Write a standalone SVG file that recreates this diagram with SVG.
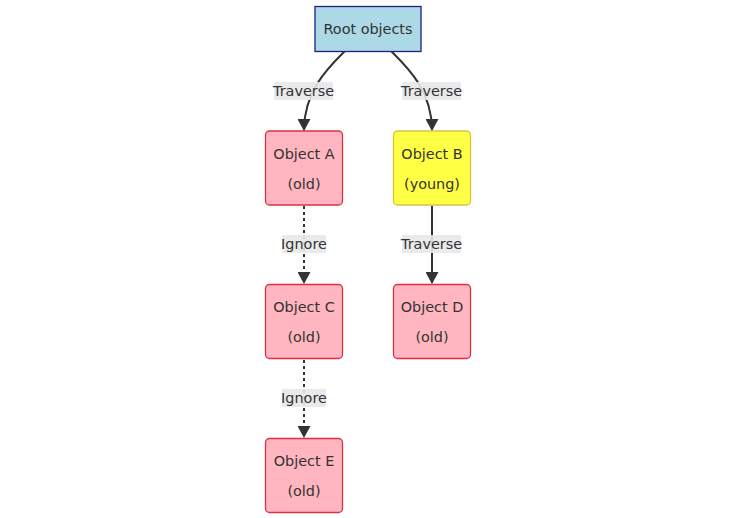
<svg xmlns="http://www.w3.org/2000/svg" width="736" height="518" viewBox="0 0 736 518">
<defs>
<style>
text{font-family:"DejaVu Sans",Verdana,sans-serif;font-size:14.4px;fill:#333;text-anchor:middle;dominant-baseline:central}
.old{fill:#ffb6c1;stroke:#e0303f;stroke-width:1.3}
.young{fill:#ffff44;stroke:#e0c040;stroke-width:1.3}
.root{fill:#add8e6;stroke:#1a237e;stroke-width:1.3}
.e{fill:none;stroke:#333;stroke-width:2}
.dot{stroke-dasharray:3,3}
.lb{fill:#e8e8e8;opacity:0.9}
</style>
<marker id="ah" viewBox="0 0 12 13" refX="11" refY="6.5" markerWidth="12" markerHeight="13" markerUnits="userSpaceOnUse" orient="auto">
<path d="M0,0 L12,6.5 L0,13 Z" fill="#333"/>
</marker>
</defs>
<rect width="736" height="518" fill="#fff"/>
<g id="connectors">
<path class="e" d="M345,51 C330,66 304,90 304,130" marker-end="url(#ah)"/>
<path class="e" d="M391,51 C406,66 432,90 432,130" marker-end="url(#ah)"/>
<path class="e dot" d="M304,206 L304,283" marker-end="url(#ah)"/>
<path class="e dot" d="M304,360 L304,437" marker-end="url(#ah)"/>
<path class="e" d="M432,206 L432,283" marker-end="url(#ah)"/>
<rect class="lb" x="274" y="82" width="59" height="18"/>
<text x="303.5" y="91">Traverse</text>
<rect class="lb" x="402" y="82" width="59" height="18"/>
<text x="431.5" y="91">Traverse</text>
<rect class="lb" x="282" y="235" width="44" height="18"/>
<text x="304" y="244">Ignore</text>
<rect class="lb" x="282" y="389" width="44" height="18"/>
<text x="304" y="398">Ignore</text>
<rect class="lb" x="402" y="235" width="59" height="18"/>
<text x="431.5" y="244">Traverse</text>
</g>
<g id="root">
<rect class="root" x="315" y="6.5" width="106" height="45"/>
<text x="368" y="29">Root objects</text>
</g>
<g id="objA">
<rect class="old" x="265.5" y="131" width="77" height="74" rx="4"/>
<text x="304" y="154">Object A</text>
<text x="304" y="184">(old)</text>
</g>
<g id="objB">
<rect class="young" x="393.5" y="131" width="77" height="74" rx="4"/>
<text x="432" y="154">Object B</text>
<text x="432" y="184">(young)</text>
</g>
<g id="objC">
<rect class="old" x="265.5" y="284.5" width="77" height="74" rx="4"/>
<text x="304" y="307">Object C</text>
<text x="304" y="337">(old)</text>
</g>
<g id="objD">
<rect class="old" x="393.5" y="284.5" width="77" height="74" rx="4"/>
<text x="432" y="307">Object D</text>
<text x="432" y="337">(old)</text>
</g>
<g id="objE">
<rect class="old" x="265.5" y="438.5" width="77" height="74" rx="4"/>
<text x="304" y="461">Object E</text>
<text x="304" y="491">(old)</text>
</g>
</svg>
